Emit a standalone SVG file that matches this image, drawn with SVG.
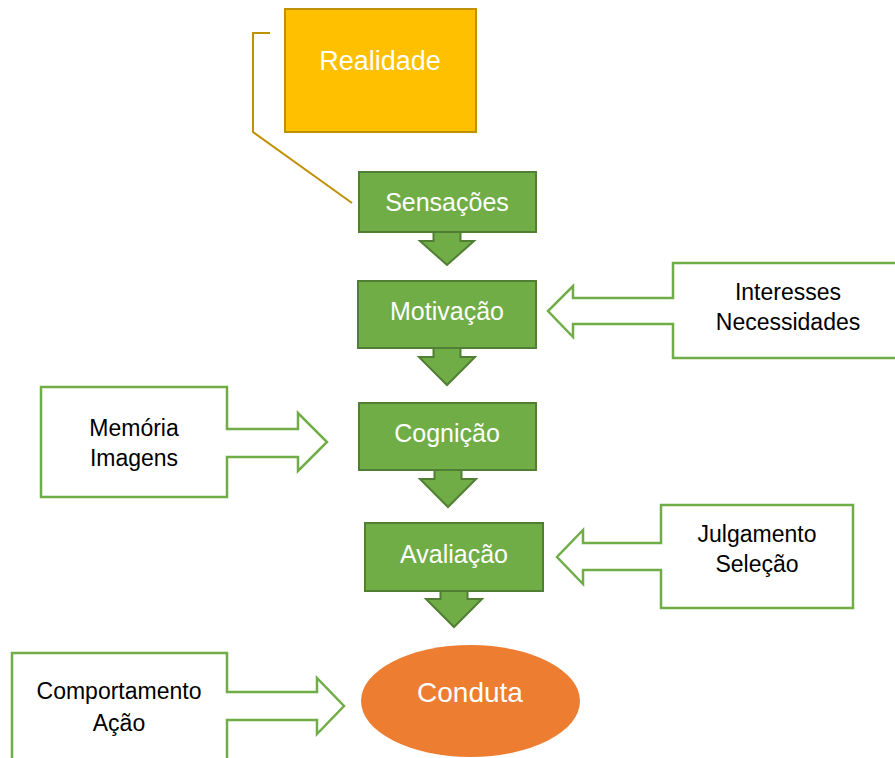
<svg xmlns="http://www.w3.org/2000/svg" width="895" height="758" viewBox="0 0 895 758">
  <style>
    .step { fill: #70AD47; stroke: #507E32; stroke-width: 2; }
    .down { fill: #70AD47; stroke: #507E32; stroke-width: 2; stroke-linejoin: miter; }
    .callout { fill: #FFFFFF; stroke: #70AD47; stroke-width: 2.5; stroke-linejoin: miter; }
    .light { font-family: "Liberation Sans", Arial, sans-serif; font-size: 25px; fill: #FFFFFF; text-anchor: middle; }
    .light.big { font-size: 27px; }
    .light.oval { font-size: 28px; }
    .dark { font-family: "Liberation Sans", Arial, sans-serif; font-size: 23px; fill: #000000; text-anchor: middle; }
  </style>
  <rect width="895" height="758" fill="#FFFFFF"/>

  <!-- connectors: bracket from Realidade to Sensações, and the down arrows between steps -->
  <g id="connectors">
    <polyline points="270,33 253,33 253,132 352,203" fill="none" stroke="#BF9000" stroke-width="2"/>
    <polygon class="down" points="433.5,228 460.5,228 460.5,241 474,241 447,265 420,241 433.5,241"/>
    <polygon class="down" points="433.5,344 460.5,344 460.5,357 475,357 447,385 419,357 433.5,357"/>
    <polygon class="down" points="434.5,466 461.5,466 461.5,479 476,479 448,507 420,479 434.5,479"/>
    <polygon class="down" points="440.5,587 467.5,587 467.5,599 482,599 454,627 426,599 440.5,599"/>
  </g>

  <g id="realidade">
    <rect x="285" y="9" width="191" height="123" fill="#FFC000" stroke="#BF9000" stroke-width="2"/>
    <text class="light big" x="380" y="70">Realidade</text>
  </g>

  <g id="sensacoes">
    <rect class="step" x="359" y="172" width="177" height="60"/>
    <text class="light" x="447" y="211">Sensações</text>
  </g>

  <g id="motivacao">
    <rect class="step" x="358" y="281" width="178" height="67"/>
    <text class="light" x="447" y="320">Motivação</text>
  </g>

  <g id="cognicao">
    <rect class="step" x="359" y="403" width="177" height="67"/>
    <text class="light" x="447" y="442">Cognição</text>
  </g>

  <g id="avaliacao">
    <rect class="step" x="365" y="523" width="178" height="68"/>
    <text class="light" x="454" y="563">Avaliação</text>
  </g>

  <g id="conduta">
    <ellipse cx="470.5" cy="701" rx="109.5" ry="56" fill="#ED7D31"/>
    <text class="light oval" x="470" y="702">Conduta</text>
  </g>

  <g id="interesses">
    <path class="callout" d="M673,263 H900 V358 H673 V324 H573 V337 L548,311 L573,286 V298 H673 Z"/>
    <text class="dark" x="788" y="300">Interesses</text>
    <text class="dark" x="788" y="330">Necessidades</text>
  </g>

  <g id="memoria">
    <path class="callout" d="M41,387 H227 V429 H298 V413 L327,442 L298,471 V457 H227 V497 H41 Z"/>
    <text class="dark" x="134" y="436">Memória</text>
    <text class="dark" x="134" y="466">Imagens</text>
  </g>

  <g id="julgamento">
    <path class="callout" d="M661,505 H853 V608 H661 V570 H583 V584 L557,557 L583,530 V543 H661 Z"/>
    <text class="dark" x="757" y="542">Julgamento</text>
    <text class="dark" x="757" y="572">Seleção</text>
  </g>

  <g id="comportamento">
    <path class="callout" d="M12,653 H227 V692 H317 V678 L344,706 L317,734 V720 H227 V775 H12 Z"/>
    <text class="dark" x="119" y="699">Comportamento</text>
    <text class="dark" x="119" y="731">Ação</text>
  </g>
</svg>
